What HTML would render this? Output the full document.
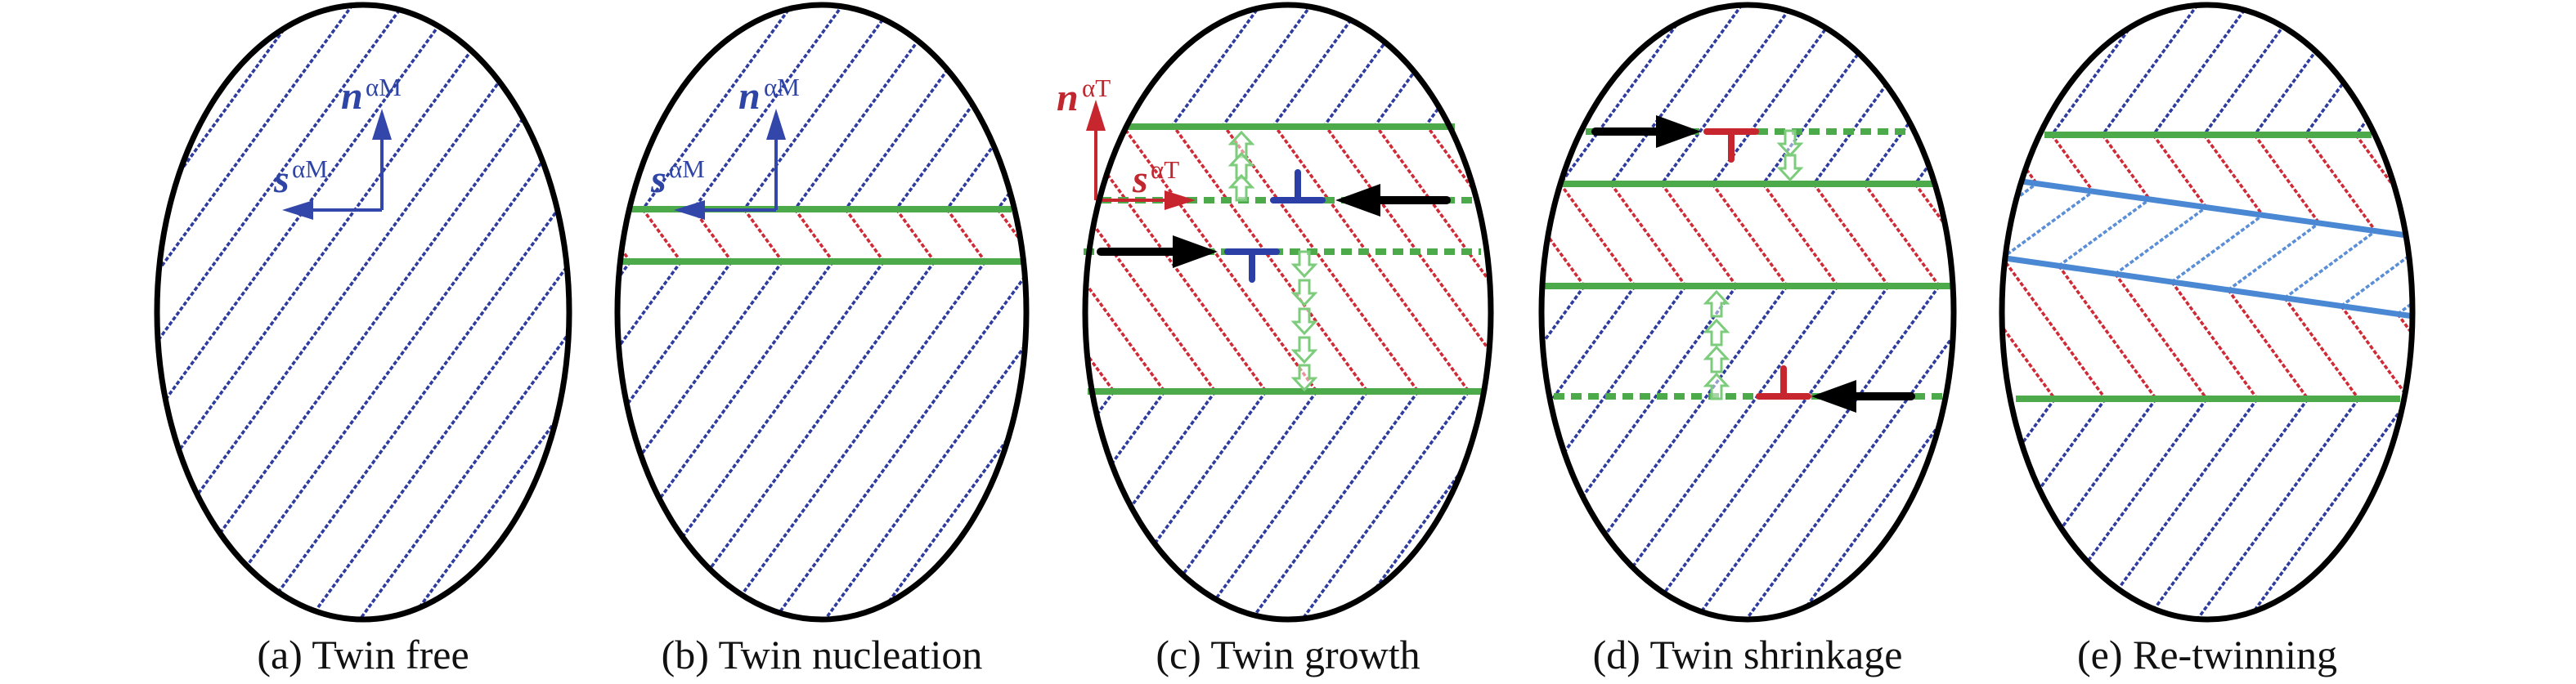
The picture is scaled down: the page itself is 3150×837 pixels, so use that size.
<!DOCTYPE html>
<html><head><meta charset="utf-8"><style>
html,body{margin:0;padding:0;background:#fff;}
svg{display:block;}
.lbl{font-family:"Liberation Serif","Times New Roman",serif;font-size:50px;fill:#111;}
.vb{font-family:"Liberation Serif","Times New Roman",serif;font-weight:bold;font-style:italic;font-size:48px;}
.sp{font-family:"Liberation Serif","Times New Roman",serif;font-size:31px;}
</style></head><body>
<svg id="fig" width="3150" height="837" viewBox="0 0 3150 837" xmlns="http://www.w3.org/2000/svg">
<defs id="defs"></defs>
<g id="hatch"></g>
<g id="over"></g>
<g id="ells"></g>
<g id="texts">
<text class="lbl" x="444" y="818" text-anchor="middle">(a) Twin free</text>
<text class="lbl" x="1005" y="818" text-anchor="middle">(b) Twin nucleation</text>
<text class="lbl" x="1575" y="818" text-anchor="middle">(c) Twin growth</text>
<text class="lbl" x="2137" y="818" text-anchor="middle">(d) Twin shrinkage</text>
<text class="lbl" x="2699" y="818" text-anchor="middle">(e) Re-twinning</text>
<text x="417" y="133" fill="#2f45a6"><tspan class="vb">n</tspan></text>
<text x="447" y="117" fill="#2f45a6" class="sp">αM</text>
<text x="335" y="235" fill="#2f45a6"><tspan class="vb">s</tspan></text>
<text x="357" y="217" fill="#2f45a6" class="sp">αM</text>
<text x="903" y="133" fill="#2f45a6"><tspan class="vb">n</tspan></text>
<text x="934" y="117" fill="#2f45a6" class="sp">αM</text>
<text x="796" y="235" fill="#2f45a6"><tspan class="vb">s</tspan></text>
<text x="818" y="217" fill="#2f45a6" class="sp">αM</text>
<text x="1292" y="135" fill="#c0272f"><tspan class="vb">n</tspan></text>
<text x="1323" y="118" fill="#c0272f" class="sp">αT</text>
<text x="1385" y="235" fill="#c0272f"><tspan class="vb">s</tspan></text>
<text x="1407" y="218" fill="#c0272f" class="sp">αT</text>
</g>
</svg>
<script>
var panelCx = [444, 1005, 1575, 2137, 2699];
var panelRx = [252, 250, 248, 252, 251];
var panelCy = 382, panelRy = 376;
var bandsA = [];
var bandsB = [256, 320];
var bandsC = [153, 479];
var bandsD = [225, 350];
var phaseX = [389, 786, 1434, 1970, 2509];
var phaseY = [743, 256, 153, 225, 165];
var SP = 62, SL = 0.73;
var NS = 'http://www.w3.org/2000/svg';
var BLUE = '#2e3c9e', RED = '#cf2a36', LBLUE = '#5a8fd8', GREEN = '#4caa4a', LGREEN = '#7ccc7c';
function mk(t, attrs, parent){var e=document.createElementNS(NS,t);for(var k in attrs)e.setAttribute(k,attrs[k]);parent.appendChild(e);return e;}
var defs=document.getElementById('defs'), hatch=document.getElementById('hatch'), over=document.getElementById('over'), ells=document.getElementById('ells');
for (var i=0;i<5;i++){
  var cp=mk('clipPath',{id:'cl'+i},defs);
  mk('ellipse',{cx:panelCx[i],cy:panelCy,rx:panelRx[i]-2,ry:panelRy-2},cp);
  var el=mk('ellipse',{cx:panelCx[i],cy:panelCy,rx:panelRx[i],ry:panelRy,fill:'none',stroke:'#000','stroke-width':7},ells);
  
  
}
function dashLine(g,pts,color,name){
  var d='M'+pts.map(function(p){return p[0].toFixed(1)+','+p[1].toFixed(1);}).join(' L');
  var p=mk('path',{d:d,fill:'none',stroke:color,'stroke-width':3.6,'stroke-dasharray':'5 2.5'},g);
  
  
  return p;
}
var allBands=[bandsA,bandsB,bandsC,bandsD];
for (var i=0;i<4;i++){
  var g=mk('g',{'clip-path':'url(#cl'+i+')'},hatch);
  
  
  var b=allBands[i];
  var bounds=[0].concat(b).concat([800]);
  function xAt(x0,y0,y){
    var x=x0, yc=y0, step=y>y0?1:-1;
    while (Math.abs(yc-y)>1e-6){
      var idx=0; for(var k=0;k<bounds.length-1;k++){ if(step>0? (yc>=bounds[k]&&yc<bounds[k+1]) : (yc>bounds[k]&&yc<=bounds[k+1])) idx=k; }
      var s=(idx%2===0)?-1:1;
      var lim=step>0?Math.min(bounds[idx+1],y):Math.max(bounds[idx],y);
      x+=s*SL*(lim-yc); yc=lim;
    }
    return x;
  }
  var base=xAt(phaseX[i],phaseY[i],0);
  for (var k=-12;k<14;k++){
    var x0=base+k*SP;
    for (var j=0;j<bounds.length-1;j++){
      var xa=xAt(x0,0,bounds[j]), xb=xAt(x0,0,bounds[j+1]);
      dashLine(g,[[xa,bounds[j]],[xb,bounds[j+1]]],(j%2===0)?BLUE:RED,'hatch-line');
    }
  }
}
var line1=[[2465,221],[2950,289]], line2=[[2445,315],[2958,388]];
var greenTopE=165, greenBotE=488;
function onLine(L,x){return L[0][1]+(x-L[0][0])*(L[1][1]-L[0][1])/(L[1][0]-L[0][0]);}
var ge=mk('g',{'clip-path':'url(#cl4)'},hatch);


var upEnds=[];
for (var k=-8;k<12;k++){
  var x0=phaseX[4]+k*SP;
  dashLine(ge,[[x0+SL*greenTopE,0],[x0,greenTopE]],BLUE,'hatch-line');
  var y=greenTopE; for(var it=0;it<20;it++){ y=onLine(line1,x0+SL*(y-greenTopE)); }
  var xe=x0+SL*(y-greenTopE); upEnds.push([xe,y]);
  dashLine(ge,[[x0,greenTopE],[xe,y]],RED,'hatch-line');
}
for (var k=0;k<upEnds.length-1;k++){
  var xs=upEnds[k+1][0]-111, ys=onLine(line2,xs);
  dashLine(ge,[[xs,ys],upEnds[k+1]],LBLUE,'retwin-hatch-line');
  var xr=xs+SL*(greenBotE-ys);
  dashLine(ge,[[xs,ys],[xr,greenBotE]],RED,'hatch-line');
  dashLine(ge,[[xr,greenBotE],[xr-SL*(800-greenBotE),800]],BLUE,'hatch-line');
}
[line1,line2].forEach(function(L,n){
  var p=mk('line',{x1:L[0][0],y1:L[0][1],x2:L[1][0],y2:L[1][1],stroke:'#4a88d4','stroke-width':7,'clip-path':'url(#cl4)'},over);
  
  
});
var greens=[[256,770,1237,0],[320,760,1250,0],[155,1378,1779,0],[245,1346,1802,1],[308,1325,1811,1],[479,1330,1812,0],
 [161,1939,2332,1],[225,1908,2368,0],[350,1883,2390,0],[485,1900,2375,1],[165,2500,2900,0],[488,2465,2935,0]];
greens.forEach(function(gr){
  var a={x1:gr[1],y1:gr[0],x2:gr[2],y2:gr[0],stroke:GREEN,'stroke-width':8};
  if(gr[3])a['stroke-dasharray']='13 8';
  var l=mk('line',a,over);
  
  
});
var hollow=[[1518,162,-1],[1518,188,-1],[1518,215,-1],[1595,338,1],[1595,373,1],[1595,408,1],[1595,443,1],[1595,477,1],
 [2189,190,1],[2189,220,1],[2099,357,-1],[2099,392,-1],[2099,425,-1],[2099,458,-1]];
hollow.forEach(function(h){
  var x=h[0],t=h[1],s=-h[2];
  var pts=[[0,0],[13,14],[6,14],[6,30],[-6,30],[-6,14],[-13,14]].map(function(p){return (x+p[0])+','+(t+s*p[1]);}).join(' ');
  var p=mk('polygon',{points:pts,fill:'#fff','fill-opacity':0.5,stroke:LGREEN,'stroke-width':3},over);
  
  
});
var blk=[[1769,1633,245],[1346,1489,308],[1951,2080,161],[2337,2215,485]];
blk.forEach(function(b){
  var d=b[1]>b[0]?1:-1, hx=b[1]-d*55;
  mk('line',{x1:b[0],y1:b[2],x2:hx,y2:b[2],stroke:'#000','stroke-width':10,'stroke-linecap':'round'},over);
  var p=mk('polygon',{points:b[1]+','+b[2]+' '+hx+','+(b[2]-20)+' '+hx+','+(b[2]+20),fill:'#000'},over);
  
  
});
var disl=[[1587,245,-1,'#2b3fa6'],[1531,308,1,'#2b3fa6'],[2117,161,1,'#c7262e'],[2181,485,-1,'#c7262e']];
disl.forEach(function(d){
  mk('line',{x1:d[0]-30,y1:d[1],x2:d[0]+30,y2:d[1],stroke:d[3],'stroke-width':8,'stroke-linecap':'round'},over);
  var s=mk('line',{x1:d[0],y1:d[1],x2:d[0],y2:d[1]+d[2]*34,stroke:d[3],'stroke-width':8,'stroke-linecap':'round'},over);
  
  
});
var axes=[[467,257,133,345,'#3347ab'],[949,257,133,824,'#3347ab'],[1340,245,122,1462,'#c8262f']];
axes.forEach(function(a){
  mk('line',{x1:a[0],y1:a[1],x2:a[0],y2:a[2]+36,stroke:a[4],'stroke-width':4},over);
  mk('polygon',{points:a[0]+','+a[2]+' '+(a[0]-12)+','+(a[2]+38)+' '+(a[0]+12)+','+(a[2]+38),fill:a[4]},over);
  var d=a[3]>a[0]?1:-1;
  mk('line',{x1:a[0],y1:a[1],x2:a[3]-d*36,y2:a[1],stroke:a[4],'stroke-width':4},over);
  var p=mk('polygon',{points:a[3]+','+a[1]+' '+(a[3]-d*38)+','+(a[1]-12)+' '+(a[3]-d*38)+','+(a[1]+12),fill:a[4]},over);
  
  
});
</script>
</body></html>
